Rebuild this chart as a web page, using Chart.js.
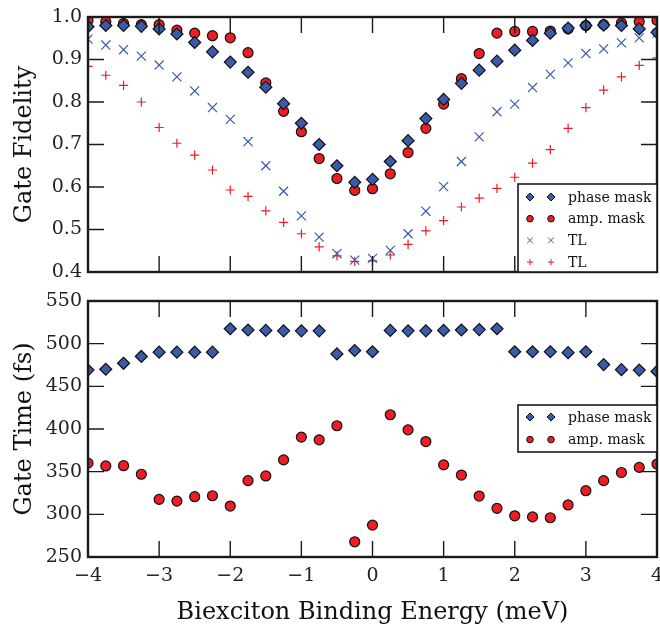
<!DOCTYPE html>
<html>
<head>
<meta charset="utf-8">
<script src="https://cdn.jsdelivr.net/npm/chart.js@4/dist/chart.umd.min.js"></script>
<style>
    html, body { margin: 0; padding: 0; background: #fff; }
    #wrap { position: relative; width: 660px; height: 627px; }
    .panel { position: absolute; left: 0; }
</style>
</head>
<body>
<div id="wrap">
    <canvas class="panel" id="chart-fidelity" width="660" height="290" style="top:0"></canvas>
    <canvas class="panel" id="chart-time" width="660" height="337" style="top:290px"></canvas>
</div>
<script>
// biexciton binding energy (meV)
const energies = [-4, -3.75, -3.5, -3.25, -3, -2.75, -2.5, -2.25, -2, -1.75, -1.5, -1.25, -1, -0.75, -0.5, -0.25, 0,
    0.25, 0.5, 0.75, 1, 1.25, 1.5, 1.75, 2, 2.25, 2.5, 2.75, 3, 3.25, 3.5, 3.75, 4];

// gate fidelity
const fidelityPhase = [0.977, 0.98, 0.98, 0.978, 0.972, 0.96, 0.94, 0.918, 0.894, 0.87, 0.835, 0.796, 0.75, 0.70, 0.65, 0.611, 0.618,
    0.66, 0.709, 0.761, 0.806, 0.844, 0.875, 0.896, 0.922, 0.945, 0.962, 0.974, 0.98, 0.981, 0.98, 0.972, 0.964];
const fidelityAmp = [0.992, 0.989, 0.985, 0.982, 0.982, 0.969, 0.962, 0.956, 0.951, 0.916, 0.845, 0.778, 0.73, 0.667, 0.62, 0.592, 0.596,
    0.631, 0.681, 0.738, 0.795, 0.855, 0.914, 0.962, 0.966, 0.966, 0.967, 0.972, 0.98, 0.982, 0.986, 0.989, 0.992];
const fidelityTLPhase = [0.948, 0.934, 0.923, 0.908, 0.887, 0.859, 0.826, 0.787, 0.759, 0.707, 0.65, 0.59, 0.532, 0.482, 0.443, 0.428, 0.432,
    0.451, 0.49, 0.543, 0.601, 0.66, 0.718, 0.777, 0.795, 0.834, 0.865, 0.892, 0.914, 0.925, 0.939, 0.951, 0.962];
const fidelityTLAmp = [0.884, 0.863, 0.839, 0.80, 0.74, 0.703, 0.675, 0.64, 0.593, 0.578, 0.544, 0.517, 0.49, 0.459, 0.438, 0.425, 0.426,
    0.44, 0.465, 0.497, 0.521, 0.553, 0.574, 0.597, 0.623, 0.656, 0.688, 0.738, 0.787, 0.828, 0.859, 0.886, 0.904];

// gate time (fs)
const timePhase = [469, 470, 477, 485, 490, 490, 490, 490, 517.5, 516, 515.5, 515, 515, 515, 488, 492, 490.5,
    515.5, 515, 515, 515.5, 516, 516.5, 517.5, 490.5, 490.5, 490.5, 489.5, 490.5, 475.5, 469.5, 469, 467.5];
const timeAmp = [360, 356.7, 357, 347, 317.5, 315.5, 320.7, 321.8, 309.7, 339.5, 345, 363.8, 390.5, 387.3, 403.8, 267.8, 287.4,
    416.7, 399, 385.3, 358, 346, 321.4, 307, 298.3, 297, 296, 311, 327.7, 339.5, 349, 355, 359];

// ticks
const energyTicks = [-4, -3, -2, -1, 0, 1, 2, 3, 4];
const fidelityTicks = [0.4, 0.5, 0.6, 0.7, 0.8, 0.9, 1.0];
const timeTicks = [250, 300, 350, 400, 450, 500, 550];

const BLUE = '#3a5ba9';
const RED = '#ee1c25';
const FONT = "'DejaVu Serif', 'Liberation Serif', serif";
const TICK = 16;

function points(ys) {
    return energies.map((x, i) => ({ x: x, y: ys[i] }));
}

function drawMarker(ctx, m, x, y) {
    const r = m.r;
    ctx.beginPath();
    if (m.style === 'rectRot') {
        ctx.moveTo(x - r, y); ctx.lineTo(x, y - r); ctx.lineTo(x + r, y); ctx.lineTo(x, y + r); ctx.closePath();
    } else if (m.style === 'circle') {
        ctx.arc(x, y, r, 0, Math.PI * 2);
    } else if (m.style === 'crossRot') {
        const d = r * Math.SQRT1_2;
        ctx.moveTo(x - d, y - d); ctx.lineTo(x + d, y + d);
        ctx.moveTo(x + d, y - d); ctx.lineTo(x - d, y + d);
    } else {
        ctx.moveTo(x - r, y); ctx.lineTo(x + r, y);
        ctx.moveTo(x, y - r); ctx.lineTo(x, y + r);
    }
    if (m.fill) { ctx.fillStyle = m.fill; ctx.fill(); }
    ctx.lineWidth = m.lw;
    ctx.strokeStyle = m.stroke;
    ctx.stroke();
}

// frame, inward ticks on all four sides and the two-marker legend
const frameAndLegend = {
    id: 'frameAndLegend',
    afterDatasetsDraw(chart, args, opts) {
        const { ctx, chartArea: a, scales } = chart;
        ctx.save();
        ctx.strokeStyle = '#1a1a1a';
        ctx.lineWidth = 1.4;
        ctx.beginPath();
        energyTicks.forEach(v => {
            const px = scales.x.getPixelForValue(v);
            ctx.moveTo(px, a.bottom); ctx.lineTo(px, a.bottom - TICK);
            ctx.moveTo(px, a.top); ctx.lineTo(px, a.top + TICK);
        });
        opts.yTicks.forEach(v => {
            const py = scales.y.getPixelForValue(v);
            ctx.moveTo(a.left, py); ctx.lineTo(a.left + TICK, py);
            ctx.moveTo(a.right, py); ctx.lineTo(a.right - TICK, py);
        });
        ctx.stroke();
        ctx.lineWidth = 2.4;
        ctx.strokeRect(a.left, a.top, a.width, a.height);

        // legend box
        const lg = opts.legend;
        ctx.fillStyle = '#fff';
        ctx.fillRect(lg.left, lg.top, a.right - lg.left, lg.bottom - lg.top);
        ctx.lineWidth = 1.6;
        ctx.strokeRect(lg.left, lg.top, a.right - lg.left, lg.bottom - lg.top);
        ctx.font = '14px ' + FONT;
        ctx.textBaseline = 'middle';
        lg.items.forEach((it, i) => {
            const y = lg.top + lg.first + i * lg.step;
            drawMarker(ctx, it.marker, lg.left + 12, y);
            drawMarker(ctx, it.marker, lg.left + 33, y);
            ctx.fillStyle = '#111';
            ctx.fillText(it.label, lg.left + 50, y + 1);
        });
        ctx.restore();
    }
};

function axisX(showLabels) {
    return {
        type: 'linear',
        min: -4,
        max: 4,
        display: showLabels,
        afterBuildTicks: s => { s.ticks = energyTicks.map(v => ({ value: v })); },
        afterFit: s => {
            s.paddingLeft = 0;
            s.paddingRight = 0;
            if (showLabels) s.height = 70;
        },
        grid: { display: false, drawTicks: false, tickLength: 0 },
        border: { display: false },
        ticks: {
            padding: 8,
            maxRotation: 0,
            color: '#222',
            font: { family: FONT, size: 19 },
            callback: v => String(v).replace('-', '\u2212')
        },
        title: {
            display: true,
            text: 'Biexciton Binding Energy (meV)',
            color: '#111',
            font: { family: FONT, size: 24 },
            padding: { top: 5, bottom: 0 }
        }
    };
}

function axisY(min, max, tickVals, digits, label) {
    return {
        type: 'linear',
        min: min,
        max: max,
        afterBuildTicks: s => { s.ticks = tickVals.map(v => ({ value: v })); },
        afterFit: s => {
            s.width = 88;
            s.paddingTop = 0;
            s.paddingBottom = 0;
        },
        grid: { display: false, drawTicks: false, tickLength: 0 },
        border: { display: false },
        ticks: {
            padding: 6,
            color: '#222',
            font: { family: FONT, size: 19 },
            callback: v => v.toFixed(digits)
        },
        title: {
            display: true,
            text: label,
            color: '#111',
            font: { family: FONT, size: 24 },
            padding: { top: 10, bottom: 0 }
        }
    };
}

function scatterSet(label, ys, style, radius, fill, border, bw) {
    return {
        label: label,
        data: points(ys),
        showLine: false,
        pointStyle: style,
        pointRadius: radius,
        pointHoverRadius: radius,
        pointBackgroundColor: fill,
        pointBorderColor: border,
        pointBorderWidth: bw,
        clip: 0
    };
}

const mkPhase = { style: 'rectRot', r: 4, fill: BLUE, stroke: '#111', lw: 1 };
const mkAmp = { style: 'circle', r: 3.3, fill: RED, stroke: '#111', lw: 1 };
const mkTLPhase = { style: 'crossRot', r: 4, fill: null, stroke: BLUE, lw: 1 };
const mkTLAmp = { style: 'cross', r: 3, fill: null, stroke: RED, lw: 1 };

new Chart(document.getElementById('chart-fidelity').getContext('2d'), {
    type: 'scatter',
    data: {
        datasets: [
            scatterSet('phase mask', fidelityPhase, 'rectRot', 6, BLUE, '#111', 1.2),
            scatterSet('amp. mask', fidelityAmp, 'circle', 5, RED, '#111', 1.2),
            scatterSet('TL', fidelityTLPhase, 'crossRot', 6.4, BLUE, BLUE, 1.2),
            scatterSet('TL', fidelityTLAmp, 'cross', 4.6, RED, RED, 1.2)
        ]
    },
    options: {
        responsive: false,
        animation: false,
        events: [],
        layout: { autoPadding: false, padding: { top: 17, right: 3, bottom: 18, left: 0 } },
        scales: {
            x: axisX(false),
            y: axisY(0.4, 1.0, fidelityTicks, 1, 'Gate Fidelity')
        },
        plugins: {
            legend: { display: false },
            tooltip: { enabled: false },
            frameAndLegend: {
                yTicks: fidelityTicks,
                legend: {
                    left: 518, top: 184, bottom: 272, first: 13, step: 21.7,
                    items: [
                        { label: 'phase mask', marker: mkPhase },
                        { label: 'amp. mask', marker: mkAmp },
                        { label: 'TL', marker: mkTLPhase },
                        { label: 'TL', marker: mkTLAmp }
                    ]
                }
            }
        }
    },
    plugins: [frameAndLegend]
});

new Chart(document.getElementById('chart-time').getContext('2d'), {
    type: 'scatter',
    data: {
        datasets: [
            scatterSet('phase mask', timePhase, 'rectRot', 6, BLUE, '#111', 1.2),
            scatterSet('amp. mask', timeAmp, 'circle', 5, RED, '#111', 1.2)
        ]
    },
    options: {
        responsive: false,
        animation: false,
        events: [],
        layout: { autoPadding: false, padding: { top: 11, right: 3, bottom: 0, left: 0 } },
        scales: {
            x: axisX(true),
            y: axisY(250, 550, timeTicks, 0, 'Gate Time (fs)')
        },
        plugins: {
            legend: { display: false },
            tooltip: { enabled: false },
            frameAndLegend: {
                yTicks: timeTicks,
                legend: {
                    left: 518, top: 115, bottom: 162, first: 12, step: 22.6,
                    items: [
                        { label: 'phase mask', marker: mkPhase },
                        { label: 'amp. mask', marker: mkAmp }
                    ]
                }
            }
        }
    },
    plugins: [frameAndLegend]
});
</script>
</body>
</html>
